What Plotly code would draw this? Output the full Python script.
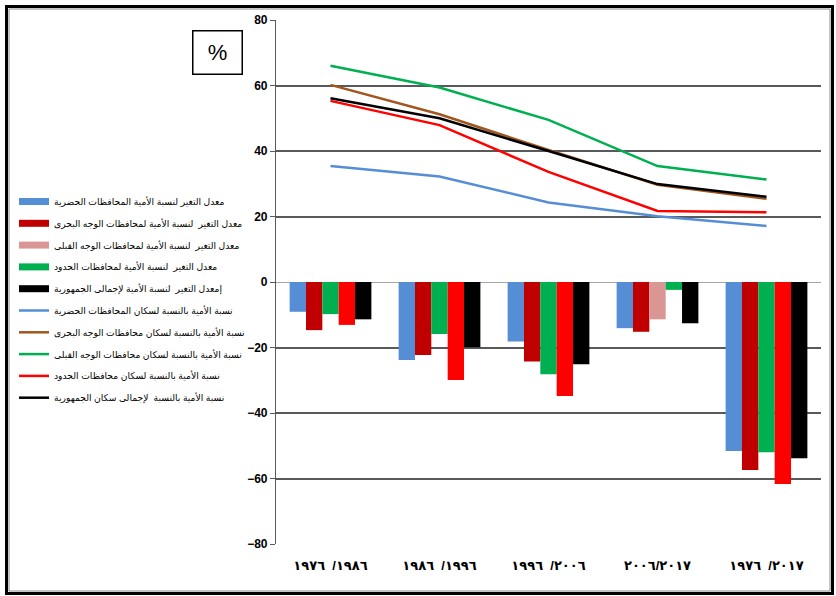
import plotly.graph_objects as go

LRM = "\u200e"
SP = "\u00a0\u00a0"
categories = [
    "١٩٧٦" + LRM + SP + "/" + LRM + "١٩٨٦",
    "١٩٨٦" + LRM + SP + "/" + LRM + "١٩٩٦",
    "١٩٩٦" + LRM + SP + "/" + LRM + "٢٠٠٦",
    "٢٠٠٦/٢٠١٧",
    "١٩٧٦" + LRM + SP + "/" + LRM + "٢٠١٧",
]

# Bar series (rate of change)
bar_names = [
    "معدل التغير لنسبة الأمية المحافظات الحضرية",
    "معدل التغير  لنسبة الأمية لمحافظات الوجه البحرى",
    "معدل التغير  لنسبة الأمية لمحافظات الوجه القبلى",
    "معدل التغير  لنسبة الأمية لمحافظات الحدود",
    "إمعدل التغير  لنسبة الأمية لإجمالى الجمهورية",
]
bar1 = [-9.1, -23.8, -18.2, -14.1, -51.6]
bar2 = [-14.7, -22.3, -24.3, -15.2, -57.4]
bar3 = [-9.8, -15.9, -28.2, -11.4, -52.0]
bar4 = [-13.1, -29.9, -34.8, -2.4, -61.7]
bar5 = [-11.4, -19.9, -25.1, -12.6, -53.8]
bar_values = [bar1, bar2, bar3, bar4, bar5]

BLUE = "#558ED5"
DARKRED = "#C00000"
PINK = "#D99694"
GREEN = "#00B050"
RED = "#FF0000"
BLACK = "#000000"
BROWN = "#A0561E"

bar_point_colors = [
    [BLUE] * 5,
    [DARKRED] * 5,
    [GREEN, GREEN, GREEN, PINK, GREEN],
    [RED, RED, RED, GREEN, RED],
    [BLACK] * 5,
]
bar_legend_colors = [BLUE, DARKRED, PINK, GREEN, BLACK]

# Line series (illiteracy rate)
line_names = [
    "نسبة الأمية بالنسبة لسكان المحافظات الحضرية",
    "نسبة الأمية بالنسبة لسكان محافظات الوجه البحرى",
    "نسبة الأمية بالنسبة لسكان محافظات الوجه القبلى",
    "نسبة الأمية بالنسبة لسكان محافظات الحدود",
    "نسبة الأمية بالنسبة  لإجمالى سكان الجمهورية",
]
line_urban = [35.4, 32.2, 24.3, 20.1, 17.1]
line_lower = [60.2, 51.2, 40.3, 29.7, 25.4]
line_upper = [66.0, 59.4, 49.5, 35.4, 31.3]
line_frontier = [55.3, 47.9, 33.6, 21.7, 21.3]
line_total = [56.1, 50.0, 40.0, 29.9, 26.0]
line_values = [line_urban, line_lower, line_upper, line_frontier, line_total]
line_colors = [BLUE, BROWN, GREEN, RED, BLACK]

y_ticks = [80, 60, 40, 20, 0, -20, -40, -60, -80]

fig = go.Figure()

# legend entries for bars
for i, (name, col) in enumerate(zip(bar_names, bar_legend_colors)):
    fig.add_trace(go.Scatter(x=[None], y=[None], mode="lines", name=name,
                             legendgroup=f"b{i}",
                             line=dict(color=col, width=7), showlegend=True))

for i, (name, vals, col) in enumerate(zip(line_names, line_values, line_colors)):
    fig.add_trace(go.Scatter(x=categories, y=vals, mode="lines", name=name,
                             legendgroup=f"l{i}",
                             line=dict(color=col, width=2.5)))

for name, vals, cols in zip(bar_names, bar_values, bar_point_colors):
    fig.add_trace(go.Bar(x=categories, y=vals, name=name, showlegend=False,
                         marker=dict(color=cols, line=dict(width=0))))

L, R, T, B = 276, 15, 20, 52
W, H = 836, 596
pw, ph = W - L - R, H - T - B

def px_x(p):
    return (p - L) / pw

def px_y(q):
    return (H - B - q) / ph

fig.update_layout(
    width=W, height=H,
    margin=dict(l=L, r=R, t=T, b=B),
    paper_bgcolor="white", plot_bgcolor="white",
    barmode="group", bargap=0.25, bargroupgap=0,
    font=dict(family="Arial, DejaVu Sans", color="black"),
    legend=dict(x=px_x(14), y=px_y(187), xanchor="left", yanchor="top",
                bgcolor="rgba(0,0,0,0)", traceorder="grouped",
                font=dict(size=9.2, family="Arial, DejaVu Sans", color="black"),
                itemwidth=30, tracegroupgap=2.8),
    xaxis=dict(type="category", showgrid=False, showline=False, ticks="",
               tickfont=dict(size=13, weight="bold"), ticklabelstandoff=12),
    yaxis=dict(range=[-80, 80], tickvals=y_ticks, showgrid=True,
               gridcolor="#595959", gridwidth=1.5, zeroline=True,
               zerolinecolor="#A6A6A6", zerolinewidth=1.2,
               showline=True, linecolor="#595959", linewidth=1.2,
               ticks="outside", ticklen=5, tickcolor="#595959",
               tickfont=dict(size=12, weight="bold")),
    annotations=[dict(x=px_x(217.5), y=px_y(52), xref="paper", yref="paper",
                      xanchor="center", yanchor="middle",
                      text="%", showarrow=False, font=dict(size=22, color="black"),
                      bordercolor="black", borderwidth=1.5, width=46, height=40,
                      borderpad=1, bgcolor="white")],
    shapes=[
        dict(type="rect", xref="paper", yref="paper",
             x0=px_x(6.5), x1=px_x(832.5), y0=px_y(593.5), y1=px_y(6.5),
             line=dict(color="black", width=3), layer="above"),
        dict(type="rect", xref="paper", yref="paper",
             x0=px_x(9), x1=px_x(830), y0=px_y(591), y1=px_y(9),
             line=dict(color="#8C8C8C", width=1), layer="above"),
    ],
)

fig.write_html("out.html")
